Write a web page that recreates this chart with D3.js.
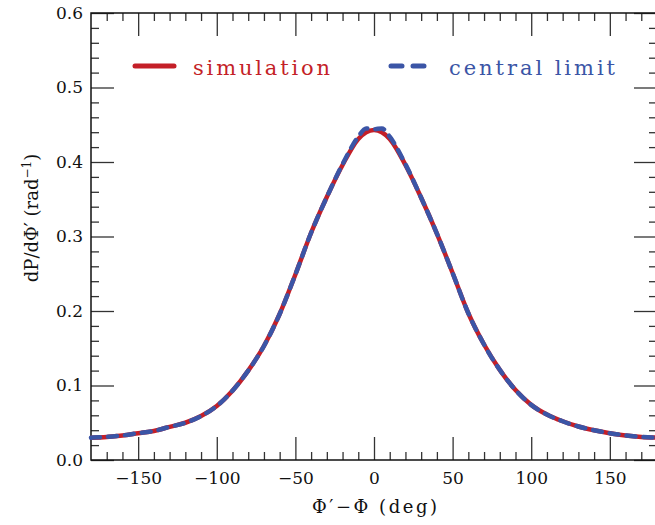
<!DOCTYPE html>
<meta charset="utf-8" />

<head>
  <style>
    body { margin: 0; background: #fff; }
    text { font-family: "DejaVu Serif", "Liberation Serif", serif; }
    .tick line { stroke: #333; stroke-width: 1.3; }
    .tick text { font-size: 17px; fill: #111; }
  </style>
  <script src="https://d3js.org/d3.v7.min.js"></script>
</head>

<body>
  <svg width="655" height="525"></svg>
  <script>
    // angle offsets (deg) and the two curves
    const angles = [-180, -170, -160, -150, -140, -130, -120, -110, -100, -90, -80, -70, -60, -50, -40, -30, -20, -10, -5, 0, 5, 10, 20, 30, 40, 50, 60, 70, 80, 90, 100, 110, 120, 130, 140, 150, 160, 170, 180];
    const simulation = [0.030, 0.031, 0.033, 0.036, 0.039, 0.0445, 0.050, 0.059, 0.0725, 0.093, 0.120, 0.153, 0.196, 0.249, 0.305, 0.353, 0.396, 0.431, 0.440, 0.443, 0.440, 0.431, 0.396, 0.352, 0.304, 0.251, 0.197, 0.155, 0.121, 0.094, 0.074, 0.061, 0.052, 0.045, 0.040, 0.036, 0.033, 0.031, 0.030];
    const centralLimit = [0.030, 0.031, 0.033, 0.036, 0.039, 0.0445, 0.050, 0.059, 0.0725, 0.093, 0.120, 0.153, 0.196, 0.249, 0.305, 0.353, 0.397, 0.434, 0.445, 0.444, 0.445, 0.434, 0.397, 0.352, 0.304, 0.251, 0.197, 0.155, 0.121, 0.094, 0.074, 0.061, 0.052, 0.045, 0.040, 0.036, 0.033, 0.031, 0.030];

    const xTicks = [-150, -100, -50, 0, 50, 100, 150];
    const yTicks = [0.0, 0.1, 0.2, 0.3, 0.4, 0.5, 0.6];

    const red = "#c41f28", blue = "#3b55a6";

    const svg = d3.select("svg");
    const x0 = 91, x1 = 657, y0 = 13, y1 = 460;

    const x = d3.scaleLinear().domain([-180, 180]).range([x0, x1]);
    const y = d3.scaleLinear().domain([0, 0.6]).range([y1, y0]);

    const xMinor = d3.range(-170, 180, 10).filter(d => d % 50 !== 0);
    const yMinor = d3.range(0.02, 0.6, 0.02).filter((d, i) => (i + 1) % 5 !== 0);

    // ticks on all four sides, pointing inward
    svg.append("g").attr("transform", "translate(0," + y1 + ")")
      .call(d3.axisBottom(x).tickValues(xMinor).tickSize(-8).tickFormat(""));
    svg.append("g").attr("transform", "translate(0," + y1 + ")")
      .call(d3.axisBottom(x).tickValues(xTicks).tickSize(-23).tickPadding(12));
    svg.append("g").attr("transform", "translate(0," + y0 + ")")
      .call(d3.axisTop(x).tickValues(xMinor).tickSize(-8).tickFormat(""));
    svg.append("g").attr("transform", "translate(0," + y0 + ")")
      .call(d3.axisTop(x).tickValues(xTicks).tickSize(-23).tickFormat(""));

    svg.append("g").attr("transform", "translate(" + x0 + ",0)")
      .call(d3.axisLeft(y).tickValues(yMinor).tickSize(-8).tickFormat(""));
    svg.append("g").attr("transform", "translate(" + x0 + ",0)")
      .call(d3.axisLeft(y).tickValues(yTicks).tickSize(-23).tickPadding(8).tickFormat(d3.format(".1f")));
    svg.append("g").attr("transform", "translate(" + x1 + ",0)")
      .call(d3.axisRight(y).tickValues(yMinor).tickSize(-8).tickFormat(""));
    svg.append("g").attr("transform", "translate(" + x1 + ",0)")
      .call(d3.axisRight(y).tickValues(yTicks).tickSize(-23).tickFormat(""));

    svg.selectAll(".domain").remove();
    svg.selectAll("g").attr("font-family", null).attr("font-size", null);

    svg.append("rect")
      .attr("x", x0).attr("y", y0)
      .attr("width", x1 - x0).attr("height", y1 - y0)
      .attr("fill", "none").attr("stroke", "#111").attr("stroke-width", 1.5);

    const line = d3.line()
      .x((d, i) => x(angles[i]))
      .y(d => y(d))
      .curve(d3.curveMonotoneX);

    const plot = svg.append("g");
    plot.append("path").datum(simulation)
      .attr("d", line).attr("fill", "none")
      .attr("stroke", red).attr("stroke-width", 4.5);
    plot.append("path").datum(centralLimit)
      .attr("d", line).attr("fill", "none")
      .attr("stroke", blue).attr("stroke-width", 4.5)
      .attr("stroke-dasharray", "9,8").attr("stroke-linecap", "round");

    // legend
    svg.append("line").attr("x1", 135).attr("x2", 174).attr("y1", 66).attr("y2", 66)
      .attr("stroke", red).attr("stroke-width", 5).attr("stroke-linecap", "round");
    svg.append("text").attr("x", 193).attr("y", 75)
      .attr("fill", red).style("font-size", "21px")
      .attr("textLength", 137).attr("lengthAdjust", "spacing")
      .text("simulation");

    svg.append("line").attr("x1", 391).attr("x2", 425).attr("y1", 66).attr("y2", 66)
      .attr("stroke", blue).attr("stroke-width", 5).attr("stroke-linecap", "round")
      .attr("stroke-dasharray", "11,11");
    svg.append("text").attr("x", 449).attr("y", 75)
      .attr("fill", blue).style("font-size", "21px")
      .attr("textLength", 166).attr("lengthAdjust", "spacing")
      .text("central limit");

    // axis titles
    svg.append("text")
      .attr("x", 312).attr("y", 513)
      .style("font-size", "18px").attr("fill", "#111")
      .attr("textLength", 125).attr("lengthAdjust", "spacing")
      .text("Φ′−Φ (deg)");

    const yt = svg.append("text")
      .attr("transform", "translate(38,218) rotate(-90)")
      .attr("text-anchor", "middle").style("font-size", "18px").attr("fill", "#111");
    yt.append("tspan").text("dP/dΦ′ (rad");
    yt.append("tspan").attr("dy", -7).style("font-size", "12px").text("−1");
    yt.append("tspan").attr("dy", 7).text(")");
  </script>
</body>
